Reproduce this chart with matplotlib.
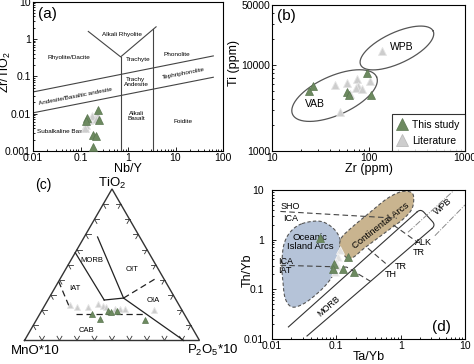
import numpy as np
import matplotlib
matplotlib.use('Agg')
import matplotlib.pyplot as plt
from matplotlib.ticker import FixedLocator, FuncFormatter, LogLocator, NullFormatter
from matplotlib.lines import Line2D

plt.rcParams['font.family'] = ['Liberation Sans', 'DejaVu Sans']
plt.rcParams['mathtext.fontset'] = 'custom'
plt.rcParams['mathtext.rm'] = 'Liberation Sans'
plt.rcParams['mathtext.it'] = 'Liberation Sans:italic'

DARK = '#6d8a60'
DARK_EDGE = '#5a7650'
LIGHT = '#cdcdcd'
LIGHT_EDGE = '#e4e4e4'

# ---------------- Panel (a): Nb/Y vs Zr/TiO2 ----------------
a_study_nby = [0.230, 0.249, 0.139, 0.131, 0.186, 0.212, 0.186]
a_study_zrti = [0.0128, 0.00665, 0.00764, 0.0062, 0.00268, 0.0025, 0.00129]
a_lit_nby = [0.219, 0.172, 0.153, 0.131, 0.124, 0.212]
a_lit_zrti = [0.0094, 0.0084, 0.0066, 0.0050, 0.0041, 0.0072]

# ---------------- Panel (b): Zr vs Ti ----------------
b_study_zr = [26.6, 24.0, 96.4, 60.5, 62.8, 105]
b_study_ti = [5700, 4990, 8070, 4850, 4540, 4480]
b_lit_zr = [45.5, 59.8, 76.0, 77.8, 75.1, 85.7, 104, 64.3, 50.7, 138]
b_lit_ti = [5850, 6180, 6820, 5780, 5470, 5260, 6600, 4600, 2820, 14550]

# ---------------- Panel (c): TiO2 - MnO*10 - P2O5*10 (%) ----------------
c_study_tio2 = [17.2, 14.5, 19.5, 19.1, 19.5, 13.5]
c_study_mno = [52.7, 49.8, 42.4, 40.8, 37.4, 24.4]
c_study_p2o5 = [30.1, 35.7, 38.2, 40.1, 43.1, 62.1]
c_lit_tio2 = [23.1, 21.8, 22.4, 24.1, 22.8, 21.8, 21.1, 21.1, 20.6, 19.8]
c_lit_mno = [62.5, 59.3, 52.7, 45.8, 44.0, 42.5, 37.7, 34.6, 32.0, 16.1]
c_lit_p2o5 = [14.4, 18.9, 24.9, 30.1, 33.2, 35.7, 41.2, 44.3, 47.4, 64.1]

# ---------------- Panel (d): Ta/Yb vs Th/Yb ----------------
d_study_tayb = [0.056, 0.152, 0.0904, 0.0887, 0.125, 0.185]
d_study_thyb = [1.08, 0.438, 0.331, 0.262, 0.251, 0.221]
d_lit_tayb = [0.116, 0.108, 0.0989, 0.0955, 0.104]
d_lit_thyb = [0.62, 0.448, 0.355, 0.223, 0.29]

fmt = FuncFormatter(lambda v, p: f'{v:g}')


def style_log(ax, xt, yt, xlim, ylim, ypad=1.5):
    ax.set_xscale('log')
    ax.set_yscale('log')
    ax.set_xlim(*xlim)
    ax.set_ylim(*ylim)
    ax.xaxis.set_major_locator(FixedLocator(xt))
    ax.yaxis.set_major_locator(FixedLocator(yt))
    ax.xaxis.set_major_formatter(fmt)
    ax.yaxis.set_major_formatter(fmt)
    ax.xaxis.set_minor_locator(LogLocator(base=10, subs=np.arange(2, 10)))
    ax.yaxis.set_minor_locator(LogLocator(base=10, subs=np.arange(2, 10)))
    ax.xaxis.set_minor_formatter(NullFormatter())
    ax.yaxis.set_minor_formatter(NullFormatter())
    ax.tick_params(which='both', direction='in', labelsize=7.5,
                   top=False, right=False, width=0.6)
    ax.tick_params(axis='x', pad=1.5)
    ax.tick_params(axis='y', pad=ypad)
    ax.tick_params(which='major', length=3)
    ax.tick_params(which='minor', length=1.5)
    for s in ax.spines.values():
        s.set_linewidth(0.8)


def tri(ax, x, y, dark, ms=5.5, z=5, lit_fc=LIGHT, lit_ec=LIGHT_EDGE):
    if dark:
        ax.plot(x, y, '^', ms=ms, mfc=DARK, mec=DARK_EDGE, mew=0.5, ls='none', zorder=z)
    else:
        ax.plot(x, y, '^', ms=ms, mfc=lit_fc, mec=lit_ec, mew=0.6, ls='none', zorder=z)


fig = plt.figure(figsize=(4.74, 3.64), dpi=100)
W, H = 474.0, 364.0

# ================= (a) =================
ax = fig.add_axes([33 / W, 1 - 151 / H, 190 / W, 149.5 / H])
style_log(ax, [0.01, 0.1, 1, 10, 100], [0.001, 0.01, 0.1, 1, 10], (0.01, 100), (0.001, 10))
lk = dict(color='#444444', lw=0.8)
ax.plot([0.01, 62.5], [0.038, 0.35], **lk)
ax.plot([0.01, 62.5], [0.0105, 0.094], **lk)
ax.plot([0.70, 0.70], [0.001, 0.33], **lk)
ax.plot([3.4, 3.4], [0.001, 1.85], **lk)
ax.plot([0.146, 0.70, 3.9], [1.58, 0.33, 2.1], **lk)
fs = 4.6
ax.text(0.74, 1.33, 'Alkali Rhyolite', fontsize=fs, ha='center', va='center')
ax.text(0.058, 0.31, 'Rhyolite/Dacite', fontsize=fs, ha='center', va='center')
ax.text(1.65, 0.28, 'Trachyte', fontsize=fs, ha='center', va='center')
ax.text(10.6, 0.38, 'Phonolite', fontsize=fs, ha='center', va='center')
ax.text(1.47, 0.071, 'Trachy\nAndesite', fontsize=fs, ha='center', va='center', linespacing=1.0)
ax.text(14.6, 0.116, 'Tephriphonolite', fontsize=fs, ha='center', va='center', rotation=11)
ax.text(0.080, 0.0296, 'Andesite/Basaltic andesite', fontsize=fs, ha='center', va='center', rotation=11)
ax.text(1.5, 0.0084, 'Alkali\nBasalt', fontsize=fs, ha='center', va='center', linespacing=1.0)
ax.text(14.6, 0.0062, 'Foidite', fontsize=fs, ha='center', va='center')
ax.text(0.0435, 0.0033, 'Subalkaline Basalt', fontsize=fs, ha='center', va='center')
tri(ax, a_lit_nby, a_lit_zrti, False)
tri(ax, a_study_nby, a_study_zrti, True)
ax.text(0.025, 0.965, '(a)', transform=ax.transAxes, fontsize=11, ha='left', va='top')
ax.set_xlabel('Nb/Y', fontsize=9, labelpad=0)
ax.set_ylabel('Zr/TiO$_2$', fontsize=9)
ax.yaxis.set_label_coords(-0.103, 0.53)

# ================= (b) =================
ax = fig.add_axes([272 / W, 1 - 151 / H, 193 / W, 146 / H])
style_log(ax, [10, 100, 1000], [1000, 10000, 50000], (10, 1000), (1000, 50000))


def disp_ellipse(ax, cx, cy, a, b, ang):
    t = np.linspace(0, 2 * np.pi, 200)
    c = ax.transData.transform((cx, cy))
    th = np.deg2rad(ang)
    px = c[0] + a * np.cos(t) * np.cos(th) - b * np.sin(t) * np.sin(th)
    py = c[1] + a * np.cos(t) * np.sin(th) + b * np.sin(t) * np.cos(th)
    d = ax.transData.inverted().transform(np.column_stack([px, py]))
    ax.plot(d[:, 0], d[:, 1], color='#555555', lw=0.9)


disp_ellipse(ax, 44.5, 4415, 46, 19.5, 24)
disp_ellipse(ax, 197, 15800, 40, 15.4, 25)
ax.text(222, 16300, 'WPB', fontsize=7.5, ha='center', va='center')
ax.text(28.1, 3490, 'VAB', fontsize=7.5, ha='center', va='center')
tri(ax, b_lit_zr, b_lit_ti, False)
tri(ax, b_study_zr, b_study_ti, True)
ax.text(0.025, 0.97, '(b)', transform=ax.transAxes, fontsize=11, ha='left', va='top')
ax.set_xlabel('Zr (ppm)', fontsize=9, labelpad=0)
ax.set_ylabel('Ti (ppm)', fontsize=9)
ax.yaxis.set_label_coords(-0.165, 0.6)
h1 = Line2D([], [], marker='^', ls='none', ms=8, mfc=DARK, mec=DARK_EDGE, mew=0.5)
h2 = Line2D([], [], marker='^', ls='none', ms=8, mfc=LIGHT, mec='#bbbbbb', mew=0.6)
leg = ax.legend([h1, h2], ['This study', 'Literature'], loc='lower right', fontsize=7.5,
                frameon=True, fancybox=False, edgecolor='black', borderaxespad=0,
                handlelength=1.0, handletextpad=0.5, borderpad=0.5, labelspacing=0.6)
leg.get_frame().set_linewidth(0.8)

# ================= (c) ternary =================
axc = fig.add_axes([0, 0, 237 / W, 182 / H])
axc.axis('off')
axc.set_xlim(-24.5 / 175, (237 - 24.5) / 175)
axc.set_ylim((340.5 - 364) / 175, (340.5 - 182) / 175)
S3 = np.sqrt(3) / 2


def tern(T, M, P):
    T = np.asarray(T, float)
    M = np.asarray(M, float)
    P = np.asarray(P, float)
    s = T + M + P
    return P / s + T / s / 2, T / s * S3


axc.plot([0, 1, 0.5, 0], [0, 0, S3, 0], color='#333333', lw=1.0, solid_joinstyle='miter')
L = 0.028
for k in range(1, 10):
    f = k / 10
    x0, y0 = f, 0
    for dx, dy in [(0.5, S3), (-0.5, S3)]:
        axc.plot([x0, x0 + L * dx], [y0, y0 + L * dy], color='#333333', lw=0.6)
    x0, y0 = f / 2, f * S3
    for dx, dy in [(1, 0), (0.5, -S3)]:
        axc.plot([x0, x0 + L * dx], [y0, y0 + L * dy], color='#333333', lw=0.6)
    x0, y0 = 1 - f / 2, f * S3
    for dx, dy in [(-1, 0), (-0.5, -S3)]:
        axc.plot([x0, x0 + L * dx], [y0, y0 + L * dy], color='#333333', lw=0.6)

ck = dict(color='#222222', lw=0.9)
x, y = tern([0.58, 0.267], [0.42, 0.411], [0.0, 0.322]); axc.plot(x, y, **ck)
x, y = tern([0.683, 0.280], [0.241, 0.294], [0.076, 0.426]); axc.plot(x, y, **ck)
x, y = tern([0.267, 0.280], [0.411, 0.294], [0.322, 0.426]); axc.plot(x, y, **ck)
x, y = tern([0.280, 0.0], [0.294, 0.09], [0.426, 0.91]); axc.plot(x, y, **ck)
dk = dict(color='#222222', lw=0.9, dashes=(5, 3))
x, y = tern([0.280, 0.406], [0.294, 0.051], [0.426, 0.543]); axc.plot(x, y, **dk)
x, y = tern([0.39, 0.228], [0.61, 0.632], [0.0, 0.14]); axc.plot(x, y, **dk)
x, y = tern([0.177, 0.177], [0.617, 0.223], [0.206, 0.60]); axc.plot(x, y, **dk)

tf = 5.5
axc.text(0.384, 0.460, 'MORB', fontsize=tf, ha='center', va='center')
axc.text(0.612, 0.403, 'OIT', fontsize=tf, ha='center', va='center')
axc.text(0.289, 0.298, 'IAT', fontsize=tf, ha='center', va='center')
axc.text(0.736, 0.231, 'OIA', fontsize=tf, ha='center', va='center')
axc.text(0.355, 0.060, 'CAB', fontsize=tf, ha='center', va='center')
axc.text(0.5, 0.897, 'TiO$_2$', fontsize=9.5, ha='center', va='center')
axc.text(0.06, -0.062, 'MnO*10', fontsize=9.5, ha='center', va='center')
axc.text(1.077, -0.058, 'P$_2$O$_5$*10', fontsize=9.5, ha='center', va='center')
axc.text(0.106, 0.889, '(c)', fontsize=10, ha='center', va='center')
x, y = tern(c_lit_tio2, c_lit_mno, c_lit_p2o5); tri(axc, x, y, False, ms=5)
x, y = tern(c_study_tio2, c_study_mno, c_study_p2o5); tri(axc, x, y, True, ms=5)

# ================= (d) =================
ax = fig.add_axes([272 / W, 1 - 339 / H, 193 / W, 149 / H])
style_log(ax, [0.01, 0.1, 1, 10], [0.01, 0.1, 1, 10], (0.01, 10), (0.01, 10), ypad=6)


def closed_spline(xs, ys, n=20):
    P = np.column_stack([np.log10(xs), np.log10(ys)])
    N = len(P)
    t = np.linspace(0, 1, n, endpoint=False)[:, None]
    out = []
    for i in range(N):
        p0, p1, p2, p3 = P[(i - 1) % N], P[i], P[(i + 1) % N], P[(i + 2) % N]
        out.append(0.5 * (2 * p1 + (-p0 + p2) * t + (2 * p0 - 5 * p1 + 4 * p2 - p3) * t ** 2
                          + (-p0 + 3 * p1 - 3 * p2 + p3) * t ** 3))
    out = np.vstack(out + [out[0][:1]])
    return 10 ** out[:, 0], 10 ** out[:, 1]


oia_x = [0.0293, 0.0564, 0.0909, 0.1154, 0.1087, 0.1024, 0.0909, 0.0716, 0.0501, 0.0311, 0.0205, 0.0161, 0.0148, 0.0143, 0.0152, 0.0193]
oia_y = [2.10, 2.34, 1.66, 0.969, 0.564, 0.355, 0.207, 0.130, 0.0818, 0.0514, 0.0441, 0.0649, 0.1405, 0.304, 0.769, 1.43]
ca_x = [0.1465, 0.1154, 0.1182, 0.165, 0.338, 0.613, 0.988, 1.413, 1.59, 1.50, 1.114, 0.691, 0.429, 0.266, 0.186]
ca_y = [0.427, 0.659, 1.047, 1.66, 3.60, 6.69, 9.12, 9.12, 7.22, 4.21, 2.65, 1.66, 1.047, 0.659, 0.448]
sx, sy = closed_spline(oia_x, oia_y)
ax.fill(sx, sy, facecolor='#b5c3d8', edgecolor='#555555', lw=0.8, ls=(0, (3, 2)), zorder=1)
sx, sy = closed_spline(ca_x, ca_y)
ax.fill(sx, sy, facecolor='#c9b48f', edgecolor='#555555', lw=0.8, ls=(0, (3, 2)), zorder=1)

# mantle array (two solid lines joined by a rounded cap)
up_start, up_end = (0.018, 0.0175), (1.79, 3.6)
lo_start, lo_end = (0.035, 0.0115), (3.07, 1.68)
sk = dict(color='#333333', lw=0.8, zorder=2)
ax.plot([up_start[0], up_end[0]], [up_start[1], up_end[1]], **sk)
ax.plot([lo_start[0], lo_end[0]], [lo_start[1], lo_end[1]], **sk)


def rounded_cap(ax, p_start, p_up, p_lo, r=5.0):
    T = ax.transData
    a0, a1, b1 = T.transform(p_start), T.transform(p_up), T.transform(p_lo)
    d = (a1 - a0) / np.hypot(*(a1 - a0))
    n = (b1 - a1) / np.hypot(*(b1 - a1))
    K1, K2 = a1 + r * d, b1 + r * d
    tt = np.linspace(0, 1, 15)[:, None]

    def bez(P0, C, P2):
        return (1 - tt) ** 2 * P0 + 2 * (1 - tt) * tt * C + tt ** 2 * P2
    pts = np.vstack([bez(a1, K1, K1 + r * n), bez(K2 - r * n, K2, b1)])
    dd = T.inverted().transform(pts)
    ax.plot(dd[:, 0], dd[:, 1], **sk)


rounded_cap(ax, up_start, up_end, lo_end)

# within-plate enrichment trend (dash-dot)
gk = dict(color='#8a8a8a', lw=0.7, ls='-.', zorder=2)
ax.plot([1.3, 6.84], [1.41, 10.0], **gk)
ax.plot([3.4, 10.0], [1.2, 5.0], **gk)

dk = dict(color='#444444', lw=0.8, dashes=(5, 3), zorder=2)
ax.plot([0.0135, 0.87], [3.7, 2.7], **dk)
ax.plot([0.0135, 0.145, 0.34], [0.305, 0.28, 0.145], **dk)
ax.plot([0.31, 0.66], [0.67, 0.29], **dk)
ax.plot([0.77, 1.85], [1.97, 0.88], **dk)

tk = dict(fontsize=6.5, ha='center', va='center')
ax.text(0.0193, 4.76, 'SHO', **tk)
ax.text(0.0193, 2.73, 'ICA', **tk)
ax.text(0.0161, 0.366, 'ICA', **tk)
ax.text(0.0161, 0.241, 'IAT', **tk)
ax.text(4.55, 4.76, 'WPB', rotation=41, **tk)
ax.text(0.076, 0.0462, 'MORB', rotation=41, **tk)
ax.text(2.28, 0.857, 'ALK', **tk)
ax.text(1.905, 0.547, 'TR', **tk)
ax.text(0.988, 0.29, 'TR', **tk)
ax.text(0.708, 0.197, 'TH', **tk)
ax.text(0.483, 1.94, 'Continental Arcs', fontsize=6.8, ha='center', va='center', rotation=38)
ax.text(0.039, 0.897, 'Oceanic\nIsland Arcs', fontsize=6.8, ha='center', va='center', linespacing=1.1)
tri(ax, d_lit_tayb, d_lit_thyb, False, lit_fc='#e2e2e2', lit_ec='#f4f4f4')
tri(ax, d_study_tayb, d_study_thyb, True)
ax.text(0.88, 0.08, '(d)', transform=ax.transAxes, fontsize=11, ha='center', va='center')
ax.set_xlabel('Ta/Yb', fontsize=9, labelpad=0)
ax.set_ylabel('Th/Yb', fontsize=9)
ax.yaxis.set_label_coords(-0.095, 0.46)

fig.savefig('out.png', dpi=100)
